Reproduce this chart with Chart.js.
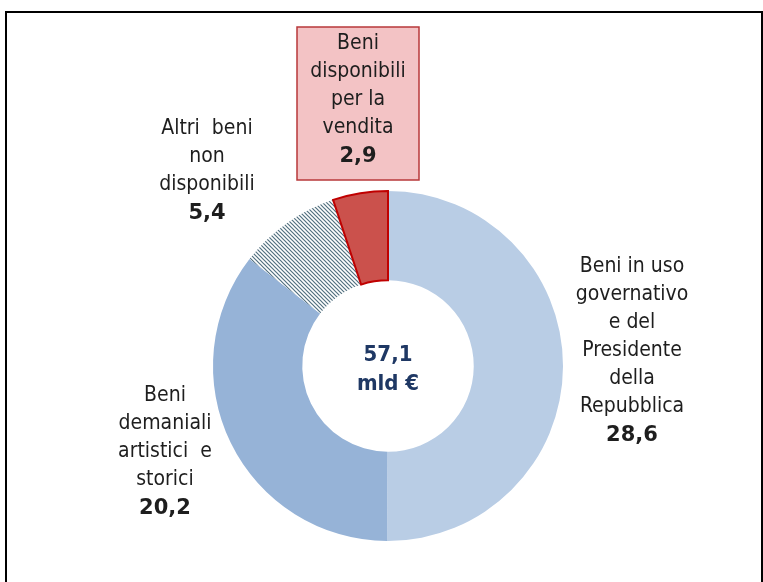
<!DOCTYPE html>
<html lang="it">
<head>
<meta charset="utf-8">
<title>Patrimonio immobiliare</title>
<script src="https://cdn.jsdelivr.net/npm/chart.js@4.4.1/dist/chart.umd.min.js"></script>
<style>
  html, body { margin: 0; padding: 0; background: #fff; }
  #wrap { position: relative; width: 763px; height: 582px; overflow: hidden; }
  #frame {
    position: absolute; left: 5px; top: 11px; width: 754px; height: 600px;
    border: 2px solid #000; pointer-events: none;
  }
</style>
</head>
<body>
<div id="wrap">
  <canvas id="ciambella" width="763" height="582"></canvas>
  <div id="frame"></div>
</div>
<script>
// dati (miliardi di euro)
const categorie = [
  ['Beni in uso', 'governativo', 'e del', 'Presidente', 'della', 'Repubblica'],
  ['Beni', 'demaniali', 'artistici  e', 'storici'],
  ['Altri  beni', 'non', 'disponibili'],
  ['Beni', 'disponibili', 'per la', 'vendita']
];
const valori = [28.6, 20.2, 5.4, 2.9];
const totale = 57.1;
const unita = 'mld €';

// posizione delle etichette rispetto al centro della ciambella
const posEtichette = [
  { dx: 244, dy: -99 },
  { dx: -223, dy: 30 },
  { dx: -181, dy: -237 },
  { dx: -30, dy: -322, box: true }
];

const fmt = v => v.toFixed(1).replace('.', ',');

// tratteggio per "altri beni non disponibili"
function tratteggio() {
  const c = document.createElement('canvas');
  c.width = 4; c.height = 4;
  const g = c.getContext('2d');
  g.fillStyle = '#ffffff';
  g.fillRect(0, 0, 4, 4);
  g.strokeStyle = '#52707f';
  g.lineWidth = 1.2;
  g.beginPath();
  g.moveTo(-1, -1); g.lineTo(5, 5);
  g.moveTo(-1, 3); g.lineTo(1, 5);
  g.moveTo(3, -1); g.lineTo(5, 1);
  g.stroke();
  return g.createPattern(c, 'repeat');
}

const etichette = {
  id: 'etichette',
  afterDraw(chart) {
    const ctx = chart.ctx;
    const arc = chart.getDatasetMeta(0).data[0];
    const cx = arc.x, cy = arc.y;
    const righe = 28;
    ctx.save();
    ctx.textAlign = 'center';
    ctx.textBaseline = 'middle';

    categorie.forEach((linee, i) => {
      const p = posEtichette[i];
      const x = cx + p.dx, y0 = cy + p.dy;
      if (p.box) {
        const h = (linee.length + 1) * righe + 13;
        ctx.fillStyle = '#f3c3c5';
        ctx.fillRect(x - 61, y0 - 17, 122, h);
        ctx.strokeStyle = '#b8383a';
        ctx.lineWidth = 1.5;
        ctx.strokeRect(x - 61, y0 - 17, 122, h);
      }
      ctx.fillStyle = '#1e1e1e';
      ctx.font = '21px "DejaVu Sans Condensed", "DejaVu Sans", sans-serif';
      linee.forEach((t, k) => ctx.fillText(t, x, y0 + k * righe));
      ctx.font = 'bold 21px "DejaVu Sans", sans-serif';
      ctx.fillText(fmt(valori[i]), x, y0 + linee.length * righe + 1);
    });

    // totale al centro
    ctx.fillStyle = '#1f3864';
    ctx.font = 'bold 22px "DejaVu Sans Condensed", "DejaVu Sans", sans-serif';
    ctx.fillText(fmt(totale), cx, cy - 11);
    ctx.fillText(unita, cx, cy + 18);
    ctx.restore();
  }
};

const ctx = document.getElementById('ciambella').getContext('2d');
const grafico = new Chart(ctx, {
  type: 'doughnut',
  data: {
    labels: categorie.map(l => l.join(' ')),
    datasets: [{
      data: valori,
      backgroundColor: ['#b9cde5', '#96b3d7', tratteggio(), '#cb514c'],
      borderColor: ['#ffffff', '#ffffff', '#ffffff', '#c00000'],
      borderWidth: [0, 0, 0, 2],
      borderJoinStyle: 'miter'
    }]
  },
  options: {
    responsive: false,
    animation: false,
    cutout: '49%',
    layout: {
      padding: { left: 212, right: 199, top: 190, bottom: 40 }
    },
    plugins: {
      legend: { display: false },
      tooltip: { enabled: false }
    }
  },
  plugins: [etichette]
});
</script>
</body>
</html>
